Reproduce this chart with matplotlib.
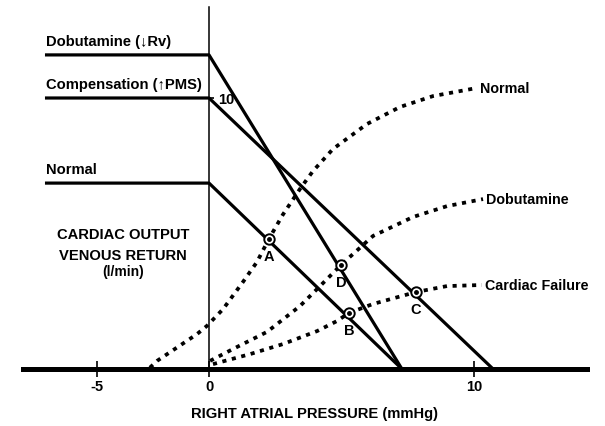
import matplotlib.pyplot as plt

plt.rcParams['font.family'] = ['Liberation Sans', 'DejaVu Sans']
plt.rcParams['font.weight'] = 'bold'

# venous return curves: plateau height (l/min) and x-intercept (mmHg)
vr_names = ["Normal", "Dobutamine (\u2193Rv)", "Compensation (\u2191PMS)"]
vr_plateau = [6.86, 11.59, 10.0]
vr_intercept = [7.28, 7.28, 10.72]
vr_start = -6.19

# cardiac output curves
co_normal_x = [-2.23, -1.96, -0.45, -0.08, 0.53, 1.28, 1.81, 2.26, 2.79, 3.43, 3.92, 4.68, 5.96, 7.21, 8.45, 10.11]
co_normal_y = [0.05, 0.30, 1.29, 1.59, 2.21, 3.21, 3.95, 4.80, 5.70, 6.64, 7.30, 8.12, 9.04, 9.67, 10.07, 10.37]
co_dobu_x = [0.04, 0.91, 2.19, 3.43, 4.19, 4.98, 6.19, 7.70, 8.98, 10.34]
co_dobu_y = [0.30, 0.74, 1.37, 2.32, 3.06, 3.84, 4.91, 5.61, 6.01, 6.27]
co_fail_x = [0.15, 1.55, 2.79, 4.08, 4.83, 5.28, 6.19, 7.81, 8.98, 10.30]
co_fail_y = [0.18, 0.55, 0.92, 1.40, 1.77, 2.07, 2.40, 2.84, 3.06, 3.10]
co_names = ["Normal", "Dobutamine", "Cardiac Failure"]

# equilibrium points
eq_x = [2.26, 5.28, 7.81, 4.98]
eq_y = [4.80, 2.07, 2.84, 3.84]
eq_labels = ["A", "B", "C", "D"]

fig = plt.figure(figsize=(6.05, 4.27), dpi=100)
ax = fig.add_axes([0, 0, 1, 1])
ax.set_xlim(-7.887, 14.943)
ax.set_ylim(-2.103, 13.653)

for sp in ["top", "right"]:
    ax.spines[sp].set_visible(False)
ax.spines["bottom"].set_position(("data", 0))
ax.spines["bottom"].set_bounds(-7.02, 14.26)
ax.spines["bottom"].set_linewidth(3.6)
ax.spines["left"].set_position(("data", 0))
ax.spines["left"].set_bounds(-0.05, 13.36)
ax.spines["left"].set_linewidth(1.1)

# the -5 tick sits where the original drawing put it
ax.set_xticks([-4.23, 0, 10], ["-5", "0", "10"])
ax.tick_params(axis="x", direction="inout", length=12, width=1.2, pad=1, labelsize=10.5)
ax.set_yticks([10], ["10"])
ax.tick_params(axis="y", direction="in", length=3.5, width=1.2, pad=-6.5, labelsize=10.5)
for lbl in ax.get_yticklabels():
    lbl.set_horizontalalignment("left")

# venous return lines
for name, p, xi in zip(vr_names, vr_plateau, vr_intercept):
    ax.plot([vr_start, 0, xi], [p, p, 0], color="black", lw=2.3, solid_capstyle="butt")
    ax.annotate(name, (vr_start, p), xytext=(1, 5), textcoords="offset points",
                ha="left", va="bottom", fontsize=10.6)

# cardiac output curves
for xs, ys, name in [(co_normal_x, co_normal_y, co_names[0]),
                     (co_dobu_x, co_dobu_y, co_names[1]),
                     (co_fail_x, co_fail_y, co_names[2])]:
    ax.plot(xs, ys, color="black", lw=2.7, linestyle=(0, (1.1, 1.5)))
    ax.annotate(name, (xs[-1], ys[-1]), xytext=(2.5, 0), textcoords="offset points",
                ha="left", va="center", fontsize=10.3)

# equilibrium markers
ax.plot(eq_x, eq_y, "o", ms=7.5, mfc="white", mec="black", mew=1.4, zorder=5)
ax.plot(eq_x, eq_y, "o", ms=2.5, color="black", zorder=6)
for x, y, t in zip(eq_x, eq_y, eq_labels):
    ax.annotate(t, (x, y), xytext=(0, -12), textcoords="offset points",
                ha="center", va="center", fontsize=10.5)

ax.text(-3.24, 5.0, "CARDIAC OUTPUT", ha="center", va="center", fontsize=10.6)
ax.text(-3.24, 4.19, "VENOUS RETURN", ha="center", va="center", fontsize=10.6)
ax.text(-3.24, 3.62, "(l/min)", ha="center", va="center", fontsize=10)
ax.text(3.98, -1.63, "RIGHT ATRIAL PRESSURE (mmHg)", ha="center", va="center", fontsize=10.6)

fig.savefig("out.png", dpi=100)
